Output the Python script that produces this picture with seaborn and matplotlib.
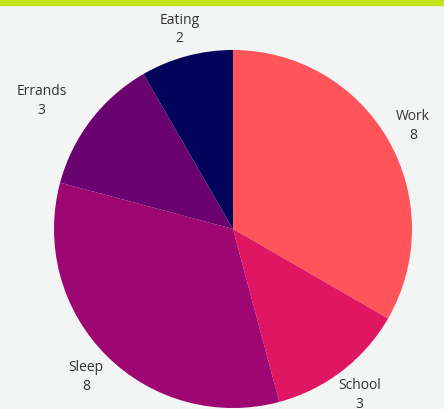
import numpy as np
import matplotlib
matplotlib.use("Agg")
import matplotlib.pyplot as plt
import seaborn as sns

categories = ["Work", "School", "Sleep", "Errands", "Eating"]
hours = [8, 3, 8, 3, 2]
colors = ["#ff5459", "#e01663", "#9e0672", "#6a036f", "#02035a"]

sns.set_theme(style="white")
plt.rcParams['font.family'] = ['Open Sans', 'DejaVu Sans']

W, H = 444, 410
fig = plt.figure(figsize=(W / 100, H / 100), dpi=100, facecolor="#f3f4f4")
ax = fig.add_axes([0, 0, 1, 1])
ax.set_facecolor("#f3f4f4")

labels = [f"{c}\n{v}" for c, v in zip(categories, hours)]
wedges, texts = ax.pie(hours, labels=labels, colors=colors, startangle=90,
                       counterclock=False, labeldistance=1.16, radius=1,
                       textprops=dict(fontsize=10, color="#333333", ha="center",
                                      va="center", linespacing=1.35),
                       wedgeprops=dict(linewidth=0))
for t in texts:
    t.set_horizontalalignment("center")

# Errands label sits further out
w = wedges[3]
ang = np.deg2rad((w.theta1 + w.theta2) / 2 + 3.5)
texts[3].set_position((1.29 * np.cos(ang), 1.29 * np.sin(ang)))

cx, cy, r = 233, 230, 179
ax.set_aspect('auto')
ax.set_xlim(-cx / r, (W - cx) / r)
ax.set_ylim(-(H - cy) / r, cy / r)
ax.axis('off')

# top green bar
fig.patches.append(plt.Rectangle((0, 1 - 6 / H), 1, 6 / H, transform=fig.transFigure,
                                 color="#c5e31a", zorder=5))

fig.savefig("out.png", dpi=100, facecolor=fig.get_facecolor())
